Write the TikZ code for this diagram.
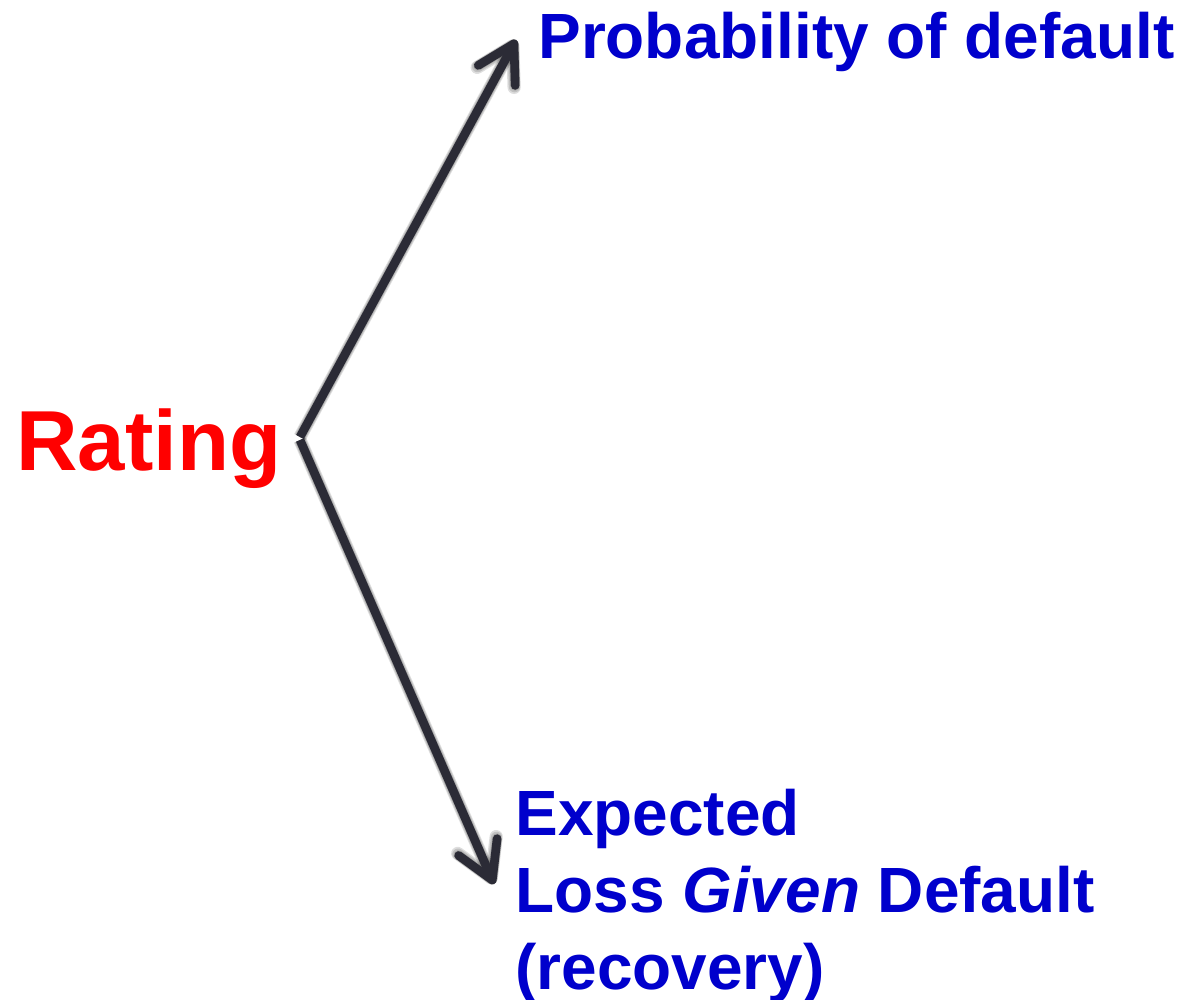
\documentclass[tikz,border=0pt]{standalone}
\usepackage{fontspec}
\setmainfont{Liberation Sans}
\usetikzlibrary{arrows.meta}
\definecolor{arrowgray}{HTML}{2B2B36}
\definecolor{txtblue}{HTML}{0000CC}
\definecolor{txtred}{HTML}{FF0000}
\tikzset{
  conn/.style={draw=arrowgray, line width=4.9pt,
    -{Straight Barb[length=0.72cm, width=0.84cm, round]}},
  connshadow/.style={draw=black, line width=#1, opacity=0.13,
    -{Straight Barb[length=0.72cm, width=0.84cm, round]}},
  bluetxt/.style={text=txtblue, font=\fontsize{36.4pt}{43.8pt}\selectfont\bfseries, inner sep=0pt, anchor=base west},
  redtxt/.style={text=txtred, font=\fontsize{48.5pt}{58pt}\selectfont\bfseries, inner sep=0pt, anchor=base west}
}
\begin{document}
\begin{tikzpicture}[x=0.02cm, y=-0.02cm]
\useasboundingbox[fill=white] (0,0) rectangle (1183,1000);
% text nodes
\node[redtxt] (rating) at (16,470) {Rating};
\node[bluetxt] (pd) at (538,59) {Probability of default};
\node[bluetxt] (lgd1) at (515,835) {Expected};
\node[bluetxt] (lgd2) at (515,912) {Loss \textit{Given} Default};
\node[bluetxt] (lgd3) at (515,989) {(recovery)};
% junction and tips
\coordinate (j1) at (300,437);
\coordinate (j2) at (300,440);
\coordinate (t1) at (516,40);
\coordinate (t2) at (494,884);
% shadows
\foreach \w/\o in {7.5pt/6, 6.5pt/5, 5.5pt/4, 5pt/3}{
  \draw[connshadow=\w, shift={(\o,\o)}] (j1) -- (t1);
  \draw[connshadow=\w, shift={(\o,\o)}] (j2) -- (t2);
}
% connectors
\draw[conn] (j1) -- (t1);
\draw[conn] (j2) -- (t2);
\end{tikzpicture}
\end{document}
